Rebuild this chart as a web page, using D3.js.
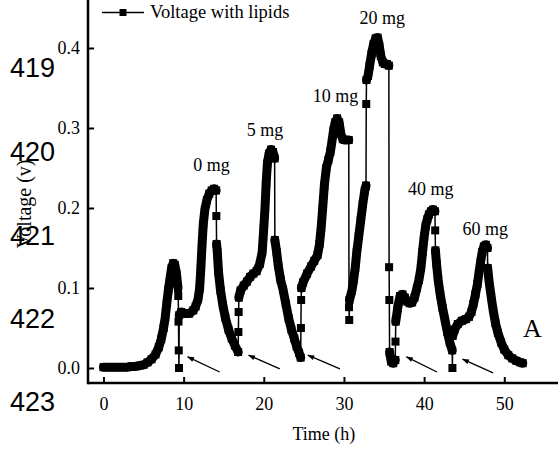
<!DOCTYPE html>
<html><head><meta charset="utf-8">
<script src="https://cdn.jsdelivr.net/npm/d3@7"></script>
<style>body{margin:0;background:#fff}svg{display:block}</style>
</head><body><svg id="c" width="558" height="450"></svg>
<script>
// ---- data ----
const timeH = [0,0.5,1,1.5,2,2.5,3,3.5,4,4.5,5,5.5,6,6.5,6.9,7.2,7.5,7.7,7.9,8.1,8.3,8.5,8.7,8.9,9.1,9.3,
 9.33,9.36,9.39,9.42,9.45,
 9.7,10.2,10.7,11.2,11.5,11.8,12.0,12.15,12.3,12.45,12.65,12.9,13.2,13.5,13.8,14.05,
 14.08,14.11,
 14.2,14.35,14.6,14.9,15.2,15.6,16.0,16.4,16.8,
 16.83,16.86,16.89,
 17.1,17.5,17.9,18.3,18.7,19.1,19.5,19.8,20.0,20.15,20.3,20.45,20.65,20.9,21.15,21.35,
 21.38,
 21.6,21.8,22.1,22.4,22.75,23.1,23.45,23.8,24.1,24.4,24.6,
 24.63,24.66,24.69,
 24.9,25.4,25.9,26.3,26.7,26.95,27.15,27.35,27.55,27.8,28.05,28.3,28.5,28.7,28.9,29.15,29.4,29.6,29.85,30.1,30.4,30.6,
 30.63,30.66,30.69,
 31.0,31.2,31.4,31.6,31.85,32.1,32.35,32.6,32.75,
 32.78,32.81,
 33.0,33.2,33.45,33.7,33.95,34.2,34.4,34.6,34.85,35.1,35.35,35.6,
 35.63,35.66,35.69,
 35.9,36.15,36.4,
 36.43,36.46,
 36.7,37.0,37.3,37.6,37.9,38.2,38.5,38.8,39.1,39.35,39.6,39.8,40.0,40.2,40.4,40.6,40.85,41.1,41.35,
 41.38,41.41,
 41.55,41.75,42.0,42.3,42.6,42.9,43.2,43.5,
 43.53,43.56,
 43.8,44.2,44.7,45.2,45.6,45.9,46.15,46.4,46.65,46.85,47.05,47.25,47.45,47.7,47.9,
 47.93,
 48.1,48.35,48.6,48.9,49.2,49.6,50.0,50.5,51.0,51.5,52.0,52.3];
const voltage = [0.001,0.001,0.001,0.001,0.001,0.001,0.001,0.002,0.002,0.003,0.004,0.007,0.011,0.017,0.026,0.036,0.05,0.063,0.081,0.098,0.112,0.125,0.131,0.129,0.118,0.1,
 0.09,0.058,0.022,0,0.066,
 0.07,0.068,0.068,0.072,0.077,0.086,0.1,0.125,0.155,0.18,0.198,0.21,0.218,0.222,0.224,0.222,
 0.19,0.155,
 0.145,0.12,0.097,0.078,0.063,0.048,0.037,0.028,0.02,
 0.045,0.07,0.088,
 0.097,0.103,0.108,0.114,0.118,0.121,0.13,0.145,0.175,0.2,0.232,0.256,0.268,0.273,0.27,0.262,
 0.16,
 0.145,0.128,0.11,0.098,0.08,0.062,0.048,0.037,0.027,0.019,0.013,
 0.05,0.085,0.1,
 0.107,0.118,0.127,0.134,0.141,0.155,0.175,0.2,0.228,0.25,0.26,0.27,0.283,0.297,0.307,0.312,0.307,0.293,0.286,0.285,0.285,0.285,
 0.076,0.06,0.085,
 0.097,0.11,0.125,0.145,0.165,0.185,0.205,0.222,0.228,
 0.33,0.36,
 0.365,0.378,0.393,0.405,0.412,0.413,0.403,0.39,0.382,0.38,0.38,0.378,
 0.126,0.085,0.02,
 0.008,0.006,0.01,
 0.033,0.058,
 0.075,0.09,0.092,0.088,0.083,0.081,0.082,0.088,0.1,0.11,0.125,0.145,0.164,0.178,0.186,0.192,0.196,0.198,0.196,
 0.172,0.147,
 0.13,0.11,0.092,0.075,0.06,0.045,0.032,0.022,
 0,0.04,
 0.048,0.055,0.059,0.061,0.064,0.07,0.08,0.092,0.105,0.12,0.133,0.145,0.152,0.154,0.15,
 0.125,
 0.108,0.09,0.073,0.056,0.044,0.032,0.023,0.016,0.012,0.009,0.007,0.006];
const seriesName = "Voltage with lipids";
const xTicks = [0,10,20,30,40,50];
const yTicks = [0.0,0.1,0.2,0.3,0.4];
const xTitle = "Time (h)";
const yTitle = "Voltage (v)";
const doseLabels = ["0 mg","5 mg","10 mg","20 mg","40 mg","60 mg"];
const doseLabelTime = [13.47,20.14,28.93,34.79,40.84,47.63];
const doseLabelVolt = [0.246,0.29,0.3325,0.43,0.216,0.166];
const feedArrowTail = [[14.5,-0.005],[22.0,-0.001],[29.5,-0.001],[41.6,-0.005],[48.6,-0.006]];
const feedArrowTip  = [[10.5,0.014],[18.1,0.016],[25.5,0.016],[37.8,0.014],[44.8,0.011]];
const panelLetter = "A";
const lineNumbers = ["419","420","421","422","423"];

// ---- layout ----
const svg = d3.select("#c");
const L = 88, R = 558, T = 0, B = 383;
const x = d3.scaleLinear().domain([-1.93, 56.7]).range([L, R]);
const y = d3.scaleLinear().domain([-0.01875, 0.46]).range([B, T]);
const serif = "'Liberation Serif','Times New Roman',serif";
const pts = timeH.map((t,i)=>[t, voltage[i]]);

// y title and line numbers (behind)
svg.append("text").attr("transform","translate(31,204) rotate(-90)")
  .attr("text-anchor","middle").attr("font-family",serif).attr("font-size",20)
  .attr("fill","#000").text(yTitle);
const lnBase = [77,161,245,328,411];
lineNumbers.forEach((s,i)=>{
  svg.append("text").attr("x",10).attr("y",lnBase[i])
   .attr("font-family","'Liberation Sans',Arial,sans-serif").attr("font-size",27)
   .attr("fill","#000").text(s);
});

// series: thin connecting line
const line = d3.line().x(d=>x(d[0])).y(d=>y(d[1]));
svg.append("path").attr("d",line(pts)).attr("fill","none").attr("stroke","#000").attr("stroke-width",1.5);
// dense recorded runs appear as a thick band (overlapping markers)
let runs = [], cur = [pts[0]];
for (let i=1;i<pts.length;i++){
  if (pts[i][0]-pts[i-1][0] >= 0.08) { cur.push(pts[i]); }
  else { if (cur.length>1) runs.push(cur); cur=[pts[i]]; }
}
if (cur.length>1) runs.push(cur);
runs.forEach(r=>svg.append("path").attr("d",line(r)).attr("fill","none")
  .attr("stroke","#000").attr("stroke-width",9).attr("stroke-linejoin","round").attr("stroke-linecap","round"));
svg.append("g").selectAll("rect").data(pts).join("rect")
  .attr("x",d=>x(d[0])-4).attr("y",d=>y(d[1])-4).attr("width",8).attr("height",8).attr("fill","#000");

// axes
const ax = svg.append("g").attr("transform",`translate(0,${B})`)
  .call(d3.axisBottom(x).tickValues(xTicks).tickSize(-6).tickPadding(14).tickFormat(d3.format("d")));
const ay = svg.append("g").attr("transform",`translate(${L},0)`)
  .call(d3.axisLeft(y).tickValues(yTicks).tickSize(-6).tickPadding(8).tickFormat(d3.format(".1f")));
[ax,ay].forEach(g=>{
  g.select(".domain").remove();
  g.selectAll(".tick line").attr("stroke","#000").attr("stroke-width",2);
  g.selectAll(".tick text").attr("font-family",serif).attr("font-size",18).attr("fill","#000");
});
svg.append("line").attr("x1",L).attr("x2",R).attr("y1",B).attr("y2",B).attr("stroke","#000").attr("stroke-width",2.5);
svg.append("line").attr("x1",L).attr("x2",L).attr("y1",T).attr("y2",B+1.25).attr("stroke","#000").attr("stroke-width",2.5);

svg.append("text").attr("x",(x(0)+x(50))/2+20).attr("y",440).attr("text-anchor","middle")
  .attr("font-family",serif).attr("font-size",18).attr("fill","#000").text(xTitle);

// dose labels
doseLabels.forEach((s,i)=>svg.append("text").attr("x",x(doseLabelTime[i])).attr("y",y(doseLabelVolt[i]))
  .attr("text-anchor","middle").attr("font-family",serif).attr("font-size",18).attr("fill","#000").text(s));

// feeding arrows
svg.append("defs").append("marker").attr("id","ah").attr("viewBox","0 0 10 10").attr("refX",9).attr("refY",5)
  .attr("markerWidth",9).attr("markerHeight",7).attr("markerUnits","userSpaceOnUse").attr("orient","auto")
  .append("path").attr("d","M0,1.5 L10,5 L0,8.5 Z").attr("fill","#000");
feedArrowTail.forEach((a,i)=>svg.append("line")
  .attr("x1",x(a[0])).attr("y1",y(a[1])).attr("x2",x(feedArrowTip[i][0])).attr("y2",y(feedArrowTip[i][1]))
  .attr("stroke","#000").attr("stroke-width",1.3).attr("marker-end","url(#ah)"));

// panel letter
svg.append("text").attr("x",532.5).attr("y",337).attr("text-anchor","middle")
  .attr("font-family",serif).attr("font-size",26).attr("fill","#000").text(panelLetter);

// legend
const lg = svg.append("g");
lg.append("line").attr("x1",102).attr("x2",144).attr("y1",12.5).attr("y2",12.5).attr("stroke","#000").attr("stroke-width",1.5);
lg.append("rect").attr("x",119.5).attr("y",9).attr("width",7).attr("height",7).attr("fill","#000");
lg.append("text").attr("x",150).attr("y",17.5).attr("font-family",serif).attr("font-size",18.5).attr("fill","#000").text(seriesName);
</script></body></html>
